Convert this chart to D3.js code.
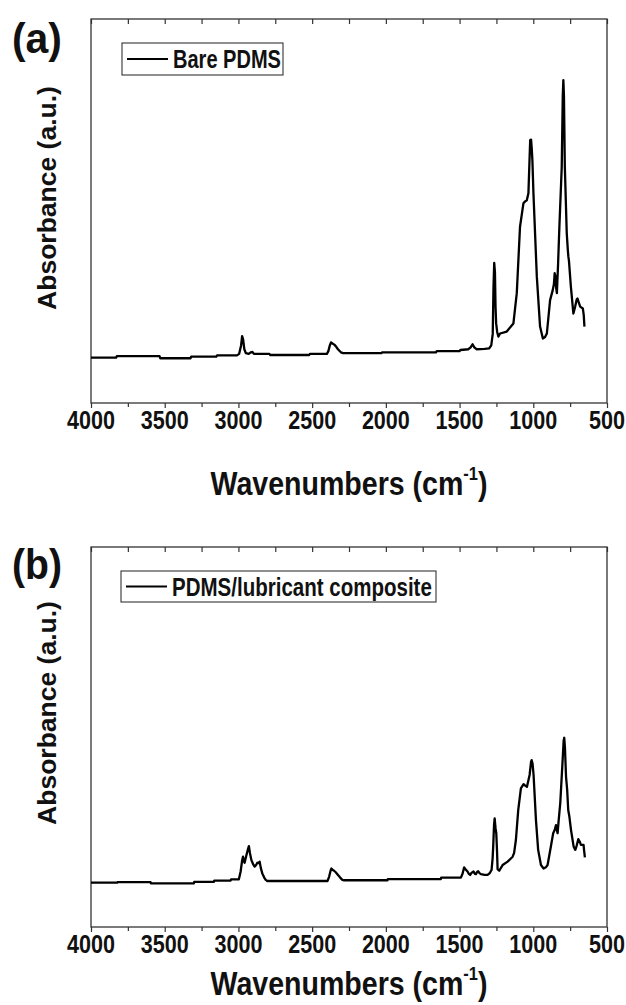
<!DOCTYPE html>
<html><head><meta charset="utf-8">
<script src="https://cdn.jsdelivr.net/npm/d3@7"></script>
<style>body{margin:0;background:#fff}svg{display:block}</style>
</head><body>
<svg id="c" width="626" height="1005"></svg>
<script>
// ---------- data ----------
const majorTicks = [4000,3500,3000,2500,2000,1500,1000,500];
const minorTicks = [3750,3250,2750,2250,1750,1250,750];
const panelLabels = ["(a)","(b)"];
const legendNames = ["Bare PDMS","PDMS/lubricant composite"];
const xTitle = "Wavenumbers (cm";
const yTitle = "Absorbance (a.u.)";

const waveA = [4000,3830,3825,3535,3530,3325,3320,3150,3145,3010,2995,2982,2975,2968,2960,2950,2930,2915,2905,2895,2790,2785,2520,2515,2400,2390,2380,2372,2362,2350,2340,2325,2305,2290,2030,2025,1660,1655,1500,1495,1440,1425,1412,1400,1385,1330,1300,1285,1275,1270,1265,1260,1256,1252,1245,1237,1225,1180,1135,1112,1090,1067,1055,1044,1033,1021,1015,1010,1006,999,976,954,935,920,908,886,868,860,855,850,845,840,832,823,807,800,796,792,786,773,766,762,758,745,728,716,705,700,690,682,664,658,653];
const absA  = [0.118,0.118,0.122,0.122,0.1165,0.1165,0.121,0.121,0.124,0.124,0.128,0.15,0.174,0.165,0.14,0.13,0.128,0.132,0.133,0.128,0.128,0.125,0.125,0.128,0.128,0.135,0.15,0.158,0.155,0.152,0.148,0.14,0.132,0.130,0.130,0.132,0.132,0.135,0.135,0.138,0.140,0.145,0.153,0.145,0.14,0.141,0.142,0.150,0.18,0.30,0.365,0.34,0.25,0.208,0.185,0.173,0.181,0.186,0.207,0.286,0.459,0.520,0.525,0.528,0.546,0.685,0.686,0.66,0.632,0.547,0.329,0.199,0.168,0.172,0.181,0.268,0.294,0.31,0.338,0.33,0.30,0.286,0.36,0.459,0.615,0.80,0.841,0.80,0.615,0.442,0.40,0.381,0.37,0.303,0.233,0.251,0.27,0.272,0.26,0.251,0.246,0.23,0.199];

const waveB = [4000,3822,3820,3596,3594,3302,3300,3166,3164,3053,3050,2997,2985,2975,2969,2962,2958,2950,2946,2935,2929,2922,2912,2900,2890,2880,2872,2864,2856,2848,2838,2825,2815,2804,2396,2385,2375,2369,2360,2351,2340,2329,2310,2295,2284,1989,1987,1627,1625,1491,1480,1469,1460,1446,1437,1428,1418,1405,1397,1389,1381,1374,1365,1355,1330,1310,1295,1283,1276,1272,1266,1262,1256,1251,1246,1242,1231,1208,1174,1140,1130,1118,1102,1084,1066,1055,1043,1025,1015,1011,1005,998,982,967,948,930,915,903,881,865,855,846,840,835,828,817,801,794,790,785,778,770,763,755,744,726,715,705,695,685,677,659,655,650];
const absB  = [0.1166,0.1166,0.118,0.118,0.115,0.115,0.119,0.119,0.122,0.122,0.1255,0.1255,0.146,0.175,0.185,0.172,0.169,0.182,0.189,0.205,0.213,0.195,0.176,0.165,0.159,0.163,0.169,0.168,0.172,0.155,0.141,0.13,0.124,0.121,0.121,0.132,0.148,0.154,0.15,0.148,0.144,0.139,0.13,0.124,0.123,0.123,0.126,0.126,0.130,0.130,0.140,0.157,0.152,0.146,0.14,0.137,0.143,0.146,0.14,0.139,0.145,0.147,0.142,0.139,0.137,0.137,0.142,0.150,0.18,0.211,0.27,0.286,0.26,0.247,0.2,0.152,0.148,0.163,0.172,0.185,0.195,0.229,0.308,0.365,0.376,0.372,0.369,0.400,0.435,0.439,0.43,0.400,0.282,0.203,0.163,0.154,0.157,0.163,0.211,0.247,0.255,0.268,0.255,0.247,0.28,0.326,0.439,0.49,0.498,0.47,0.396,0.36,0.308,0.29,0.255,0.211,0.203,0.215,0.231,0.225,0.216,0.216,0.2,0.183];

// ---------- layout ----------
const svg = d3.select("#c");
const FONT = "'Liberation Sans', Arial, sans-serif";
const X0 = 91, X1 = 607;
const panels = [
  {top:19, bottom:403, label:panelLabels[0], labelBase:53, name:legendNames[0], box:[122,43,161,32], textW:108, waves:waveA, vals:absA, tickBase:429, titleBase:495, yMid:198},
  {top:547, bottom:927, label:panelLabels[1], labelBase:579, name:legendNames[1], box:[121,571,315,31], textW:260, waves:waveB, vals:absB, tickBase:953, titleBase:995, yMid:713}
];

const x = d3.scaleLinear().domain([4000,500]).range([X0,X1]);

function fitWidth(g, target){
  const w = g.node().getBBox().width;
  return target / w;
}

panels.forEach(p => {
  const y = d3.scaleLinear().domain([0,1]).range([p.bottom,p.top]);
  const g = svg.append("g");

  // bottom axis (outward ticks)
  g.append("g").attr("transform",`translate(0,${p.bottom})`)
    .call(d3.axisBottom(x).tickValues(majorTicks).tickSize(5).tickFormat(""));
  g.append("g").attr("transform",`translate(0,${p.bottom})`)
    .call(d3.axisBottom(x).tickValues(minorTicks).tickSize(4).tickFormat(""));
  // top mirror axis (inward ticks)
  g.append("g").attr("transform",`translate(0,${p.top})`)
    .call(d3.axisBottom(x).tickValues(majorTicks.concat(minorTicks)).tickSize(5).tickFormat(""));
  g.selectAll(".domain").remove();
  g.selectAll(".tick line").attr("stroke","#333").attr("stroke-width",1.2);

  // frame
  g.append("rect").attr("x",X0).attr("y",p.top).attr("width",X1-X0).attr("height",p.bottom-p.top)
    .attr("fill","none").attr("stroke","#333").attr("stroke-width",1.3);

  // tick labels
  const labs = g.append("g");
  majorTicks.forEach(t=>{
    const tg = labs.append("g").attr("class","tl").attr("data-x",x(t));
    tg.append("text").text(t).attr("font-family",FONT).attr("font-weight","bold")
      .attr("font-size",25).attr("text-anchor","middle").attr("fill","#111");
  });
  const s0 = fitWidth(labs.select(".tl"), 48);
  labs.selectAll(".tl").attr("transform",function(){return `translate(${this.getAttribute("data-x")},${p.tickBase}) scale(${s0},1)`;});

  // x title
  const tt = g.append("g");
  const txt = tt.append("text").attr("font-family",FONT).attr("font-weight","bold").attr("font-size",33)
    .attr("text-anchor","middle").attr("fill","#111");
  txt.append("tspan").text(xTitle);
  txt.append("tspan").text("-1").attr("font-size",19).attr("dy",-15);
  txt.append("tspan").text(")").attr("dy",15);
  const s1 = fitWidth(tt, 277);
  tt.attr("transform",`translate(${(X0+X1)/2},${p.titleBase}) scale(${s1},1)`);

  // y title
  g.append("text").text(yTitle).attr("font-family",FONT).attr("font-weight","bold").attr("font-size",26.5)
    .attr("text-anchor","middle").attr("fill","#111")
    .attr("transform",`translate(56,${p.yMid}) rotate(-90)`);

  // panel label
  const pl = g.append("g");
  pl.append("text").text(p.label).attr("font-family",FONT).attr("font-weight","bold").attr("font-size",42).attr("fill","#111");
  const s2 = fitWidth(pl, 50);
  pl.attr("transform",`translate(12,${p.labelBase}) scale(${s2},1)`);

  // legend
  const [bx,by,bw,bh] = p.box;
  g.append("rect").attr("x",bx).attr("y",by).attr("width",bw).attr("height",bh)
    .attr("fill","#fff").attr("stroke","#333").attr("stroke-width",1.1);
  g.append("line").attr("x1",bx+5).attr("x2",bx+46).attr("y1",by+bh/2).attr("y2",by+bh/2)
    .attr("stroke","#000").attr("stroke-width",2);
  const lt = g.append("g");
  lt.append("text").text(p.name).attr("font-family",FONT).attr("font-weight","bold").attr("font-size",25).attr("fill","#111");
  const s3 = fitWidth(lt, p.textW);
  lt.attr("transform",`translate(${bx+51},${by+bh/2+9}) scale(${s3},1)`);

  // spectrum
  const pts = p.waves.map((w,i)=>[w,p.vals[i]]);
  g.append("path").datum(pts).attr("fill","none").attr("stroke","#000").attr("stroke-width",2.3)
    .attr("stroke-linejoin","round")
    .attr("d", d3.line().x(d=>x(d[0])).y(d=>y(d[1])));
});
</script>
</body></html>
